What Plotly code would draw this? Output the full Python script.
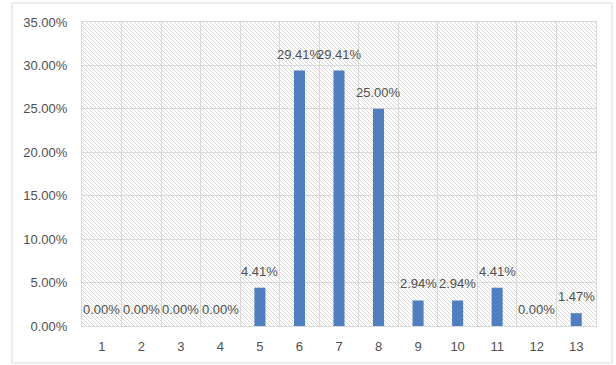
import base64
import plotly.graph_objects as go

# Share of responses per score (score 1..13)
categories = list(range(1, 14))
shares = [0.0, 0.0, 0.0, 0.0, 0.0441, 0.2941, 0.2941, 0.2500, 0.0294, 0.0294, 0.0441, 0.0, 0.0147]
y_ticks = [0.0, 0.05, 0.10, 0.15, 0.20, 0.25, 0.30, 0.35]

BAR_COLOR = "#4F7FBE"
GRID = "#d9d9d9"
TEXT = "#505050"
FONT = "Liberation Sans"

W, H = 616, 365
M_L, M_R, M_T, M_B = 82, 20, 22, 39
PW, PH = W - M_L - M_R, H - M_T - M_B

# diagonal hatch used as the plot-area fill
hatch_svg = (
    f'<svg xmlns="http://www.w3.org/2000/svg" width="{PW}" height="{PH}" '
    f'viewBox="0 0 {PW} {PH}" preserveAspectRatio="none">'
    '<defs><pattern id="h" width="4" height="4" patternUnits="userSpaceOnUse">'
    '<path d="M-1,-1 L5,5 M-1,3 L1,5 M3,-1 L5,1" stroke="#dadada" stroke-width="1"/>'
    '</pattern></defs>'
    f'<rect width="{PW}" height="{PH}" fill="url(#h)"/></svg>'
)
hatch_uri = "data:image/svg+xml;base64," + base64.b64encode(hatch_svg.encode()).decode()

fig = go.Figure()
fig.add_trace(go.Bar(
    x=categories,
    y=shares,
    width=0.28,
    marker=dict(color=BAR_COLOR, line=dict(width=0)),
    hoverinfo="skip",
))

for c, v in zip(categories, shares):
    fig.add_annotation(
        x=c, y=v, text=f"{v:.2%}", showarrow=False,
        xanchor="center", yanchor="bottom", yshift=7,
        font=dict(family=FONT, size=13, color=TEXT),
    )

fig.add_layout_image(
    source=hatch_uri, xref="paper", yref="paper",
    x=0, y=1, sizex=1, sizey=1, sizing="stretch",
    xanchor="left", yanchor="top", layer="below",
)

# outer chart border
fig.add_shape(
    type="rect", xref="paper", yref="paper",
    x0=(12 - M_L) / PW, x1=(612 - M_L) / PW,
    y0=(M_T + PH - 363) / PH, y1=(M_T + PH - 3) / PH,
    line=dict(color=GRID, width=1), fillcolor="rgba(0,0,0,0)", layer="below",
)

fig.update_layout(
    width=W, height=H,
    margin=dict(l=M_L, r=M_R, t=M_T, b=M_B),
    paper_bgcolor="white",
    plot_bgcolor="rgba(0,0,0,0)",
    showlegend=False,
    font=dict(family=FONT, size=13, color=TEXT),
    xaxis=dict(
        range=[0.5, 13.5],
        tickmode="array", tickvals=categories, ticktext=[str(c) for c in categories],
        showgrid=False, zeroline=False,
        showline=True, linecolor=GRID, linewidth=1, mirror=True,
        ticks="outside", ticklen=8, tickcolor="rgba(0,0,0,0)",
        minor=dict(tick0=0.5, dtick=1, showgrid=True, gridcolor=GRID, gridwidth=1, ticks=""),
    ),
    yaxis=dict(
        range=[0, 0.35],
        tickmode="array", tickvals=y_ticks, tickformat=".2%",
        showgrid=True, gridcolor=GRID, gridwidth=1, zeroline=False,
        showline=True, linecolor=GRID, linewidth=1, mirror=True,
        ticks="outside", ticklen=11, tickcolor="rgba(0,0,0,0)",
    ),
)

fig.write_html("out.html")
